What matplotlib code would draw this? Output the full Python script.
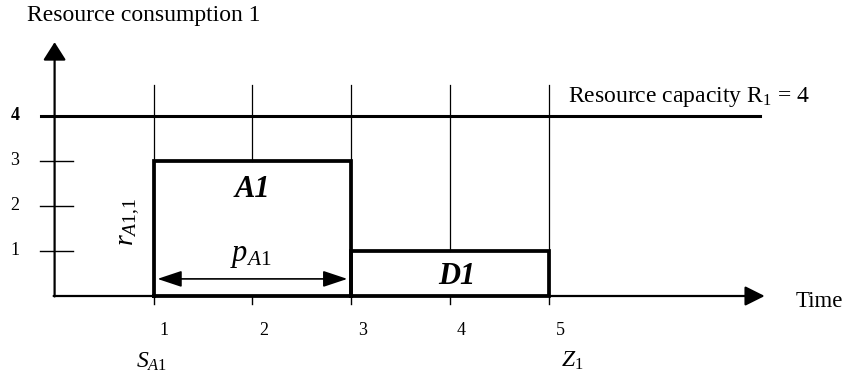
import matplotlib
matplotlib.use("Agg")
import matplotlib.pyplot as plt

plt.rcParams["font.family"] = ["Liberation Serif", "DejaVu Serif"]
plt.rcParams["mathtext.fontset"] = "custom"
plt.rcParams["mathtext.rm"] = "Liberation Serif"
plt.rcParams["mathtext.it"] = "Liberation Serif:italic"
plt.rcParams["mathtext.bf"] = "Liberation Serif:bold"
plt.rcParams["mathtext.default"] = "it"

# --- data ---
tasks = ["A1", "D1"]
task_start = [1, 3]
task_end = [3, 5]
task_usage = [3, 1]
capacity = 4
time_ticks = [1, 2, 3, 4, 5]
usage_ticks = [1, 2, 3, 4]

fig = plt.figure(figsize=(8.49, 3.76), dpi=100)
ax = fig.add_axes([0, 0, 1, 1])
# pixel mapping: x=0 at 54.6px, 98.9 px/unit ; y=0 at 296px, 45 px/unit
ax.set_xlim(-54.6 / 98.9, (849 - 54.6) / 98.9)
ax.set_ylim(-(376 - 296) / 45, 296 / 45)
ax.axis("off")

grid_top = 4.69
x_end = 7.18
y_end = 5.64

# vertical guide lines, stopping at the top of a task block that covers them
for t in time_ticks:
    bottom = 0
    for s, e, u in zip(task_start, task_end, task_usage):
        if s < t < e:
            bottom = u
    ax.plot([t, t], [bottom, grid_top], color="black", lw=0.9)
    ax.plot([t, t], [0, -0.18], color="black", lw=1.0)

# capacity line
ax.plot([-0.14, 7.13], [capacity, capacity], color="black", lw=2.2)

# y ticks
for u in usage_ticks[:-1]:
    ax.plot([-0.15, 0.19], [u, u], color="black", lw=1.0)

# axes with arrows
ax.annotate("", xy=(0, y_end), xytext=(0, -0.01),
            arrowprops=dict(arrowstyle="-|>,head_length=0.55,head_width=0.35",
                            color="black", lw=1.6, shrinkA=0, shrinkB=0, mutation_scale=20))
ax.annotate("", xy=(x_end, 0), xytext=(-0.01, 0),
            arrowprops=dict(arrowstyle="-|>,head_length=0.6,head_width=0.3",
                            color="black", lw=1.6, shrinkA=0, shrinkB=0, mutation_scale=20))

# task blocks
for name, s, e, u in zip(tasks, task_start, task_end, task_usage):
    ax.plot([s, s, e, e, s], [0, u, u, 0, 0], color="black", lw=2.7,
            solid_joinstyle="miter")

ax.text(2.0, 2.36, "A1", fontsize=22, fontweight="bold", fontstyle="italic",
        ha="center", va="center")
ax.text(4.07, 0.43, "D1", fontsize=22, fontweight="bold", fontstyle="italic",
        ha="center", va="center")

# duration arrow
ax.annotate("", xy=(task_end[0] - 0.04, 0.38), xytext=(task_start[0] + 0.04, 0.38),
            arrowprops=dict(arrowstyle="<|-|>,head_length=0.75,head_width=0.25",
                            color="black", lw=1.2, shrinkA=0, shrinkB=0, mutation_scale=20))
ax.text(1.98, 0.9, r"$p_{A1}$", fontsize=22, ha="center", va="center")
ax.text(0.76, 1.64, r"$r_{A1{,}1}$", fontsize=20, ha="center", va="center",
        rotation=90)

# tick labels
for t in time_ticks:
    ax.text(t + 0.11, -0.76, str(t), fontsize=13, ha="center", va="center")
for u in usage_ticks:
    ax.text(-0.40, u, str(u), fontsize=13, ha="center", va="center",
            fontweight="bold" if u == capacity else "normal")

ax.text(0.98, -1.47, r"$S_{A1}$", fontsize=17, ha="center", va="center")
ax.text(5.23, -1.45, r"$Z_{1}$", fontsize=17, ha="center", va="center")

ax.text(-0.28, 6.24, "Resource consumption 1", fontsize=17, ha="left", va="center")
ax.text(5.19, 4.42, r"Resource capacity $\mathrm{R}_\mathrm{1}$ = 4", fontsize=17,
        ha="left", va="center")
ax.text(7.49, -0.13, "Time", fontsize=16.5, ha="left", va="center")

fig.savefig("out.png", dpi=100)
